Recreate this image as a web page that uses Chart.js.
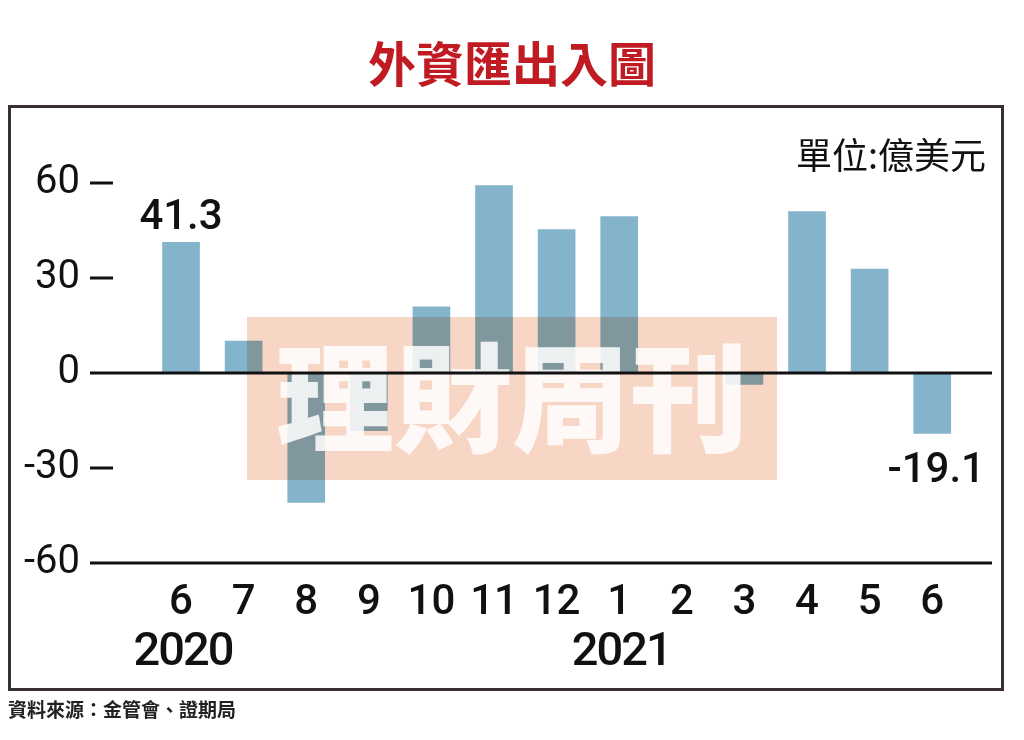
<!DOCTYPE html>
<html><head><meta charset="utf-8">
<script src="https://cdn.jsdelivr.net/npm/chart.js@4"></script>
<style>html,body{margin:0;padding:0;background:#fff;}canvas{display:block;}</style>
</head><body>
<canvas id="c" width="1024" height="740"></canvas>
<script>
const title = '外資匯出入圖';
const unitText = '單位:億美元';
const sourceText = '資料來源：金管會、證期局';
const watermarkText = '理財周刊';
const months = ['6','7','8','9','10','11','12','1','2','3','4','5','6'];
const flows = [41.3, 10.1, -40.9, -18.2, 20.9, 59.2, 45.3, 49.4, 0, -3.6, 51.0, 32.8, -19.1];
const yTicks = [60, 30, 0, -30, -60];
const yearLabels = ['2020', '2021'];
const yearAt = [0, 7];
const labelledIdx = [0, 12];

const NUM_FONT = "Roboto, 'Liberation Sans', Arial, sans-serif";
const CJK = "'Noto Sans CJK TC', 'Noto Sans CJK SC', sans-serif";

const deco = {
  id: 'deco',
  beforeDraw(chart) {
    const ctx = chart.ctx;
    ctx.save();
    ctx.fillStyle = '#fff';
    ctx.fillRect(0, 0, chart.width, chart.height);
    ctx.strokeStyle = '#3b3030';
    ctx.lineWidth = 3;
    ctx.strokeRect(9.5, 106.5, 993, 583);
    ctx.fillStyle = '#c01a22';
    ctx.font = "bold 48px " + CJK;
    ctx.textAlign = 'center';
    ctx.textBaseline = 'middle';
    ctx.fillText(title, 512, 64);
    ctx.fillStyle = '#111';
    ctx.font = "36px " + CJK;
    ctx.textAlign = 'right';
    ctx.fillText(unitText, 986, 155);
    ctx.font = "bold 19px " + CJK;
    ctx.textAlign = 'left';
    ctx.fillStyle = '#222';
    ctx.fillText(sourceText, 8, 710);
    ctx.restore();
  },
  afterDatasetsDraw(chart) {
    const ctx = chart.ctx;
    const xs = chart.scales.x, ys = chart.scales.y;
    const area = chart.chartArea;
    ctx.save();
    // watermark
    ctx.globalCompositeOperation = 'multiply';
    ctx.fillStyle = 'rgb(248,214,198)';
    ctx.fillRect(247, 317, 530, 163);
    ctx.globalCompositeOperation = 'source-over';
    ctx.fillStyle = 'rgba(255,255,255,0.85)';
    ctx.font = "900 118px " + CJK;
    ctx.textAlign = 'center';
    ctx.textBaseline = 'middle';
    ctx.fillText(watermarkText, 512, 398);
    // zero and bottom lines
    ctx.strokeStyle = '#111';
    ctx.lineWidth = 3;
    [0, -60].forEach(v => {
      const y = ys.getPixelForValue(v);
      ctx.beginPath(); ctx.moveTo(area.left, y); ctx.lineTo(area.right, y); ctx.stroke();
    });
    // short dashes
    yTicks.filter(v => v !== 0 && v !== -60).forEach(v => {
      const y = ys.getPixelForValue(v);
      ctx.beginPath(); ctx.moveTo(area.left, y); ctx.lineTo(area.left + 23, y); ctx.stroke();
    });
    // value labels
    ctx.fillStyle = '#111';
    ctx.font = "500 42px " + NUM_FONT;
    ctx.textAlign = 'center';
    ctx.textBaseline = 'alphabetic';
    labelledIdx.forEach(i => {
      const v = flows[i];
      const x = xs.getPixelForValue(i);
      const yv = ys.getPixelForValue(v);
      const txt = v.toFixed(1);
      if (v >= 0) ctx.fillText(txt, x, yv - 13);
      else ctx.fillText(txt, x + 4, yv + 49);
    });
    // year labels
    ctx.font = "500 47px " + NUM_FONT;
    try { ctx.letterSpacing = '-2px'; } catch (e) {}
    yearLabels.forEach((t, k) => {
      ctx.fillText(t, xs.getPixelForValue(yearAt[k]) + 2, 665);
    });
    ctx.restore();
  }
};

new Chart(document.getElementById('c'), {
  type: 'bar',
  data: {
    datasets: [{
      data: flows.map((v, i) => ({ x: i, y: v })),
      backgroundColor: '#84b4cc',
      borderWidth: 0,
      barThickness: 37
    }]
  },
  options: {
    responsive: false,
    devicePixelRatio: 1,
    animation: false,
    layout: { padding: { top: 183, left: 0, right: 32, bottom: 0 } },
    plugins: { legend: { display: false }, tooltip: { enabled: false } },
    scales: {
      x: {
        type: 'linear',
        offset: false,
        min: -1.454,
        max: 12.955,
        grid: { display: false, offset: false },
        border: { display: false },
        afterBuildTicks: s => { s.ticks = months.map((m, i) => ({ value: i })); },
        afterFit: s => { s.height = 177; },
        ticks: {
          autoSkip: false,
          maxRotation: 0,
          padding: 7,
          color: '#111',
          font: { family: NUM_FONT, size: 42, weight: '500' },
          callback: v => months[v]
        }
      },
      y: {
        min: -60,
        max: 60,
        grid: { display: false, drawTicks: false },
        border: { display: false },
        afterBuildTicks: s => { s.ticks = yTicks.map(v => ({ value: v })); },
        afterFit: s => { s.width = 90; },
        ticks: {
          padding: 10,
          color: '#111',
          font: { family: NUM_FONT, size: 40 },
          callback: v => String(v)
        }
      }
    }
  },
  plugins: [deco]
});
</script>
</body></html>
